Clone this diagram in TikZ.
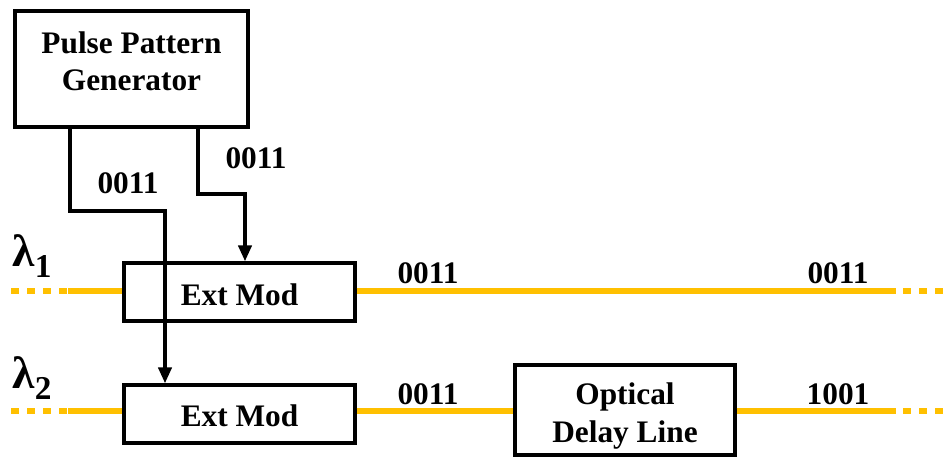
\documentclass[tikz,border=0pt]{standalone}
\usepackage{fontspec}
\setmainfont{Liberation Serif}
\usetikzlibrary{arrows.meta}
\definecolor{fiber}{HTML}{FFC000}

\tikzset{
  unitbox/.style={draw, line width=2.6pt, inner sep=0pt},
  boxtext/.style={font=\bfseries\fontsize{23.5}{28}\selectfont, align=center, inner sep=0pt},
  wire/.style={line width=2.6pt},
  feed/.style={wire, -{Triangle[length=12pt,width=10pt]}},
  fiberline/.style={fiber, line width=5pt},
  fiberdots/.style={fiber, line width=5pt, dash pattern=on 6pt off 6pt},
  bits/.style={font=\bfseries\fontsize{23.5}{26}\selectfont, inner sep=0pt},
  lam/.style={font=\bfseries\fontsize{34}{36}\selectfont, inner sep=0pt}
}

\begin{document}
\begin{tikzpicture}[x=0.75pt, y=-0.75pt]
  \useasboundingbox (0,0) rectangle (950,462);

  % boxes
  \node[unitbox, minimum width=174.75pt, minimum height=87pt] (ppg) at (131.5,69) {};
  \node[unitbox, minimum width=173.25pt, minimum height=43.5pt] (mod1) at (239.5,292) {};
  \node[unitbox, minimum width=173.25pt, minimum height=43.5pt] (mod2) at (239.5,414) {};
  \node[unitbox, minimum width=165pt, minimum height=67.5pt] (delay) at (625,410) {};
  \node[boxtext] (ppgtext) at (131.5,61) {Pulse Pattern\\Generator};
  \node[boxtext] (mod1text) at (239.5,295) {Ext Mod};
  \node[boxtext] (mod2text) at (239.5,416) {Ext Mod};
  \node[boxtext] (delaytext) at (625,416) {Optical\\Delay Line};

  % wavelength lines
  \coordinate (in1) at (68,291);
  \coordinate (out1) at (896,291);
  \coordinate (in2) at (68,411);
  \coordinate (out2) at (896,411);
  \draw[fiberdots] (11,291) -- (in1);
  \draw[fiberline] (in1) -- (in1 -| mod1.west);
  \draw[fiberline] (mod1.east |- out1) -- (out1);
  \draw[fiberdots] (out1) ++(7,0) -- (946,291);
  \draw[fiberdots] (11,411) -- (in2);
  \draw[fiberline] (in2) -- (in2 -| mod2.west);
  \draw[fiberline] (mod2.east |- out2) -- (out2 -| delay.west);
  \draw[fiberline] (delay.east |- out2) -- (out2);
  \draw[fiberdots] (out2) ++(7,0) -- (946,411);

  % drive signals
  \coordinate (bend2) at (165,211);
  \coordinate (bend1) at (245,194);
  \draw[feed] (ppg.south -| 70,0) |- (bend2) -- (bend2 |- mod2.north);
  \draw[feed] (ppg.south -| 198,0) |- (bend1) -- (bend1 |- mod1.north);

  % labels
  \node[lam] (l1) at (32,256) {λ\raisebox{-8pt}{\fontsize{25}{26}\selectfont 1}};
  \node[lam] (l2) at (32,378) {λ\raisebox{-8pt}{\fontsize{25}{26}\selectfont 2}};
  \node[bits] (b1) at (128,183) {0011};
  \node[bits] (b2) at (256,158) {0011};
  \node[bits] (b3) at (428,273) {0011};
  \node[bits] (b4) at (838,273) {0011};
  \node[bits] (b5) at (428,394) {0011};
  \node[bits] (b6) at (838,394) {1001};
\end{tikzpicture}
\end{document}
